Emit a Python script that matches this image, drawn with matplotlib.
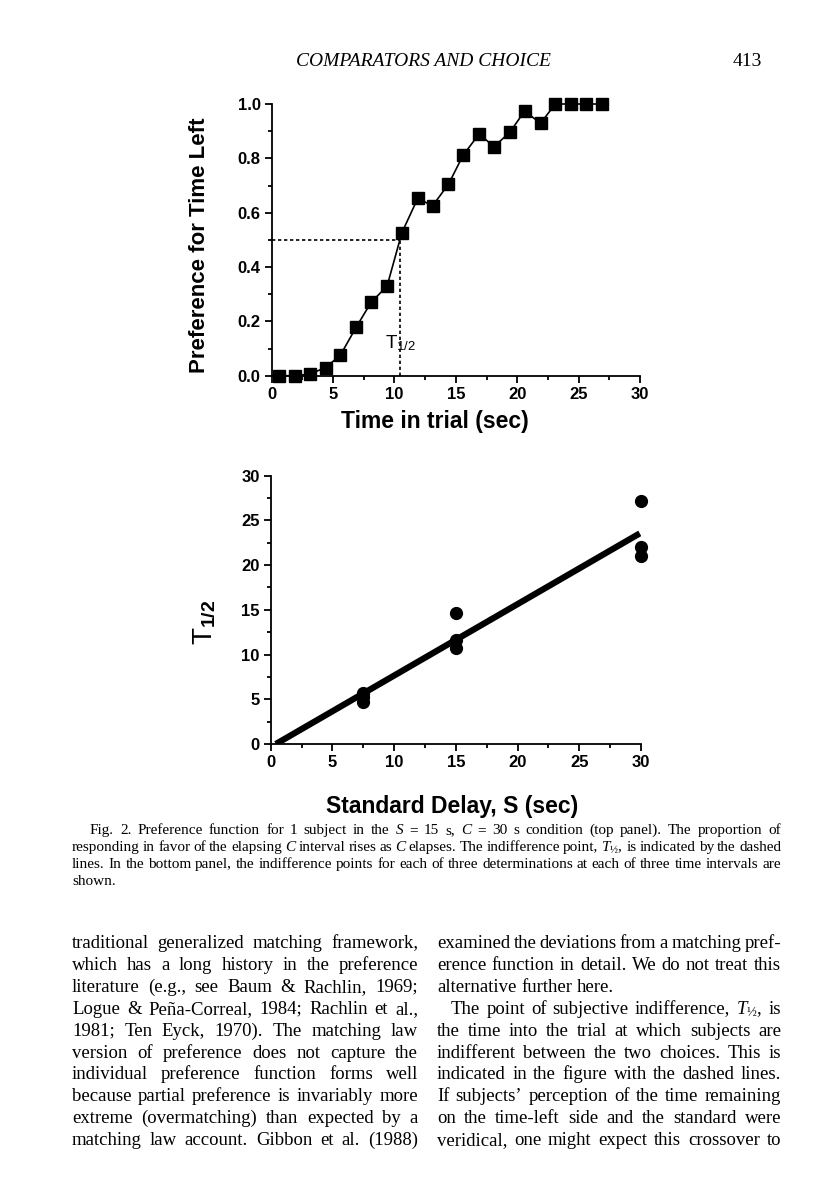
import matplotlib
matplotlib.use("Agg")
import matplotlib.pyplot as plt
import numpy as np

plt.rcParams['mathtext.fontset'] = 'custom'
plt.rcParams['mathtext.rm'] = 'Liberation Serif'
plt.rcParams['mathtext.it'] = 'Liberation Serif:italic'
plt.rcParams['mathtext.sf'] = 'Liberation Sans'
plt.rcParams['mathtext.bf'] = 'Liberation Sans:bold'

# top panel: preference function, S = 15 s, C = 30 s
trial_time = [0.6, 1.9, 3.1, 4.4, 5.6, 6.9, 8.1, 9.4, 10.6, 11.9, 13.1,
              14.4, 15.6, 16.9, 18.1, 19.4, 20.6, 21.9, 23.1, 24.4, 25.6, 26.9]
pref_left = [0.0, 0.0, 0.006, 0.03, 0.076, 0.18, 0.27, 0.33, 0.526, 0.653, 0.625,
             0.705, 0.812, 0.89, 0.843, 0.896, 0.974, 0.929, 1.0, 1.0, 1.0, 1.0]
t_half = 10.45

# bottom panel: indifference points
standard_delay = [7.5, 7.5, 7.5, 15, 15, 15, 30, 30, 30]
t_half_values = [5.7, 5.2, 4.7, 14.7, 11.6, 10.7, 27.2, 22.0, 21.0]

header = "COMPARATORS AND CHOICE"
page_no = "413"

caption = [
    "Fig. 2.  Preference function for 1 subject in the *S = 15 s, *C = 30 s condition (top panel). The proportion of",
    "responding in favor of the elapsing *C interval rises as *C elapses. The indifference point, $\\mathit{T}_{\\mathrm{½}}$, is indicated by the dashed",
    "lines. In the bottom panel, the indifference points for each of three determinations at each of three time intervals are",
    "shown.",
]
left_col = [
    "traditional generalized matching framework,",
    "which has a long history in the preference",
    "literature (e.g., see Baum & Rachlin, 1969;",
    "Logue & Peña-Correal, 1984; Rachlin et al.,",
    "1981; Ten Eyck, 1970). The matching law",
    "version of preference does not capture the",
    "individual preference function forms well",
    "because partial preference is invariably more",
    "extreme (overmatching) than expected by a",
    "matching law account. Gibbon et al. (1988)",
]
right_col = [
    "examined the deviations from a matching pref-",
    "erence function in detail. We do not treat this",
    "alternative further here.",
    "The point of subjective indifference, $\\mathit{T}_{\\mathrm{½}}$, is",
    "the time into the trial at which subjects are",
    "indifferent between the two choices. This is",
    "indicated in the figure with the dashed lines.",
    "If subjects\u2019 perception of the time remaining",
    "on the time-left side and the standard were",
    "veridical, one might expect this crossover to",
]

W, H = 816, 1200
fig = plt.figure(figsize=(W / 100, H / 100), dpi=100)
fig.patch.set_facecolor('white')

tick_font = ['Liberation Sans Narrow', 'Liberation Sans']
label_font = 'Liberation Sans'
serif = 'Liberation Serif'


def style_axes(ax):
    for s in ['top', 'right']:
        ax.spines[s].set_visible(False)
    for s in ['left', 'bottom']:
        ax.spines[s].set_linewidth(1.3)
    ax.tick_params(which='major', direction='out', length=5, width=1.3, pad=3, labelsize=12)
    ax.tick_params(which='minor', direction='out', length=3, width=1.3)
    for lab in ax.get_xticklabels() + ax.get_yticklabels():
        lab.set_fontfamily(tick_font)
        lab.set_fontweight('bold')


# ---- top panel
ax1 = fig.add_axes([271.7 / W, 1 - 375.7 / H, 368.3 / W, 271.7 / H])
ax1.plot(trial_time, pref_left, color='black', lw=1.2, marker='s', ms=8.5,
         clip_on=False, zorder=5)
ax1.plot([0, t_half], [0.5, 0.5], color='black', lw=1.2, ls=(0, (2, 1.6)))
ax1.plot([t_half, t_half], [0, 0.5], color='black', lw=1.2, ls=(0, (2, 1.6)))
ax1.text(9.2, 0.12, r'T$_{\mathsf{1/2}}$', fontsize=13.5, family=label_font,
         va='center', ha='left')
ax1.set_xlim(0, 30)
ax1.set_ylim(0, 1.0)
ax1.set_xticks(np.arange(0, 31, 5))
ax1.set_xticks(np.arange(0, 30.1, 2.5), minor=True)
ax1.set_yticks(np.arange(0, 1.01, 0.2))
ax1.set_yticks(np.arange(0, 1.01, 0.1), minor=True)
ax1.set_yticklabels([f"{v:.1f}" for v in np.arange(0, 1.01, 0.2)])
style_axes(ax1)
ax1.set_xlabel('Time in trial (sec)', fontsize=16.5, fontweight='bold',
               family=label_font, va='center')
ax1.xaxis.set_label_coords(0.443, -0.17)
ax1.set_ylabel('Preference for Time Left', fontsize=16, fontweight='bold',
               family=label_font, va='center')
ax1.yaxis.set_label_coords(-0.195, 0.48)

# ---- bottom panel
ax2 = fig.add_axes([270.7 / W, 1 - 744 / H, 370.3 / W, 268.3 / H])
ax2.plot(standard_delay, t_half_values, 'o', color='black', ms=8.5, clip_on=False, zorder=5)
slope, intercept = np.polyfit(standard_delay, t_half_values, 1)
x_fit = np.array([-intercept / slope, 29.9])
ax2.plot(x_fit, slope * x_fit + intercept, color='black', lw=4.5,
         solid_capstyle='butt', zorder=4)
ax2.set_xlim(0, 30)
ax2.set_ylim(0, 30)
ax2.set_xticks(np.arange(0, 31, 5))
ax2.set_xticks(np.arange(0, 30.1, 2.5), minor=True)
ax2.set_yticks(np.arange(0, 31, 5))
ax2.set_yticks(np.arange(0, 30.1, 2.5), minor=True)
style_axes(ax2)
ax2.set_xlabel('Standard Delay, S (sec)', fontsize=16.5, fontweight='bold',
               family=label_font, va='center')
ax2.xaxis.set_label_coords(0.489, -0.234)
ax2.set_ylabel(r'$\mathsf{T}_{\mathbf{1/2}}$', fontsize=20, family=label_font, va='center')
ax2.yaxis.set_label_coords(-0.177, 0.455)

# ---- page text
fig.text(423 / W, 1 - 66 / H, header, fontsize=14, family=serif, style='italic',
         ha='center', va='baseline')
fig.text(762 / W, 1 - 66 / H, page_no, fontsize=14, family=serif,
         ha='right', va='baseline')

renderer = fig.canvas.get_renderer()


def set_line(line, x0, x1, base, size, justify=True, indent=0.0):
    arts, widths = [], []
    for tok in line.split():
        italic = tok.startswith('*')
        t = fig.text(0, 0, tok.lstrip('*'), fontsize=size, family=serif,
                     style='italic' if italic else 'normal', va='baseline', ha='left')
        arts.append(t)
        widths.append(t.get_window_extent(renderer=renderer).width)
    if justify and len(arts) > 1:
        gap = (x1 - x0 - indent - sum(widths)) / (len(arts) - 1)
    else:
        gap = size * 100 / 72 * 0.26
    x = x0 + indent
    for t, w in zip(arts, widths):
        t.set_position((x / W, 1 - base / H))
        x += w + gap


for i, line in enumerate(caption):
    set_line(line, 72, 781, 834 + 17 * i, 11,
             justify=(i < len(caption) - 1), indent=18 if i == 0 else 0)

for i, line in enumerate(left_col):
    set_line(line, 72, 418, 948 + 21.9 * i, 13.5)

for i, line in enumerate(right_col):
    set_line(line, 437, 781, 948 + 21.9 * i, 13.5,
             justify=(i != 2), indent=14 if i == 3 else 0)

fig.savefig('out.png', dpi=100)
